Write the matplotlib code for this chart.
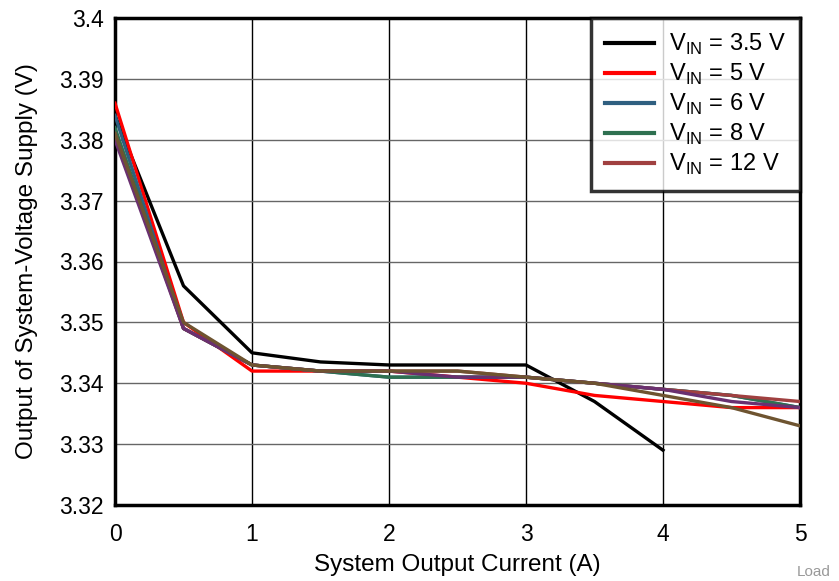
import matplotlib
matplotlib.use('Agg')
import matplotlib.pyplot as plt

plt.rcParams['font.family'] = ['Liberation Sans', 'DejaVu Sans']
plt.rcParams['mathtext.fontset'] = 'custom'
plt.rcParams['mathtext.rm'] = 'Liberation Sans'

# Data
current = [0, 0.5, 1, 1.5, 2, 2.5, 3, 3.5, 4, 4.5, 5]
current_35 = [0, 0.5, 1, 1.5, 2, 2.5, 3, 3.5, 4]
vin_35 = [3.384, 3.356, 3.345, 3.3435, 3.343, 3.343, 3.343, 3.337, 3.329]
vin_5 = [3.386, 3.350, 3.342, 3.342, 3.342, 3.341, 3.340, 3.338, 3.337, 3.336, 3.336]
vin_6 = [3.384, 3.349, 3.343, 3.342, 3.341, 3.341, 3.341, 3.340, 3.339, 3.338, 3.336]
vin_8 = [3.382, 3.349, 3.343, 3.342, 3.341, 3.341, 3.341, 3.340, 3.339, 3.338, 3.336]
vin_12 = [3.381, 3.349, 3.343, 3.342, 3.342, 3.342, 3.341, 3.340, 3.339, 3.338, 3.337]
extra_purple = [3.380, 3.349, 3.343, 3.342, 3.342, 3.341, 3.341, 3.340, 3.339, 3.337, 3.336]
extra_olive = [3.381, 3.350, 3.343, 3.342, 3.342, 3.342, 3.341, 3.340, 3.338, 3.336, 3.333]

labels = ['V$_\\mathregular{IN}$ = 3.5 V', 'V$_\\mathregular{IN}$ = 5 V',
          'V$_\\mathregular{IN}$ = 6 V', 'V$_\\mathregular{IN}$ = 8 V',
          'V$_\\mathregular{IN}$ = 12 V']

fig = plt.figure(figsize=(8.39, 5.81), dpi=100)
ax = fig.add_axes([115/839, 1 - 505/581, 685/839, 487/581])

lw = 2.4
ax.plot(current_35, vin_35, color='black', lw=lw, label=labels[0], zorder=3)
ax.plot(current, vin_5, color='#FF0000', lw=lw, label=labels[1], zorder=3)
ax.plot(current, vin_6, color='#2F5F80', lw=lw, label=labels[2], zorder=3)
ax.plot(current, vin_8, color='#2E7050', lw=lw, label=labels[3], zorder=3)
ax.plot(current, vin_12, color='#A04040', lw=lw, label=labels[4], zorder=3)
ax.plot(current, extra_purple, color='#6A3070', lw=lw, zorder=3)
ax.plot(current, extra_olive, color='#6E5430', lw=lw, zorder=3)

ax.set_xlim(0, 5)
ax.set_ylim(3.32, 3.4)
ax.set_xticks([0, 1, 2, 3, 4, 5])
ax.set_yticks([3.32, 3.33, 3.34, 3.35, 3.36, 3.37, 3.38, 3.39, 3.4])
ax.set_yticklabels(['3.32', '3.33', '3.34', '3.35', '3.36', '3.37', '3.38', '3.39', '3.4'])
ax.tick_params(length=0, labelsize=16.5)
ax.tick_params(axis='x', pad=13)
ax.tick_params(axis='y', pad=8)
ax.xaxis.grid(True, color='black', lw=1)
ax.yaxis.grid(True, color='#666666', lw=1)
ax.set_axisbelow(True)
for sp in ax.spines.values():
    sp.set_linewidth(2.5)
    sp.set_color('black')

ax.set_xlabel('System Output Current (A)', fontsize=17.5, labelpad=6)
ax.set_ylabel('Output of System-Voltage Supply (V)', fontsize=17.5, labelpad=15)

leg = ax.legend(loc='upper right', fontsize=17, frameon=True, fancybox=False,
                handlelength=2.1, borderpad=0.6, labelspacing=0.2,
                borderaxespad=0.0, handletextpad=0.6)
leg.get_frame().set_edgecolor('black')
leg.get_frame().set_linewidth(2.5)
leg.set_zorder(5)
for line in leg.get_lines():
    line.set_linewidth(3)

fig.text(797/839, 2/581, 'Load', color='#999999', fontsize=11, ha='left', va='bottom')

fig.savefig('out.png', dpi=100)
